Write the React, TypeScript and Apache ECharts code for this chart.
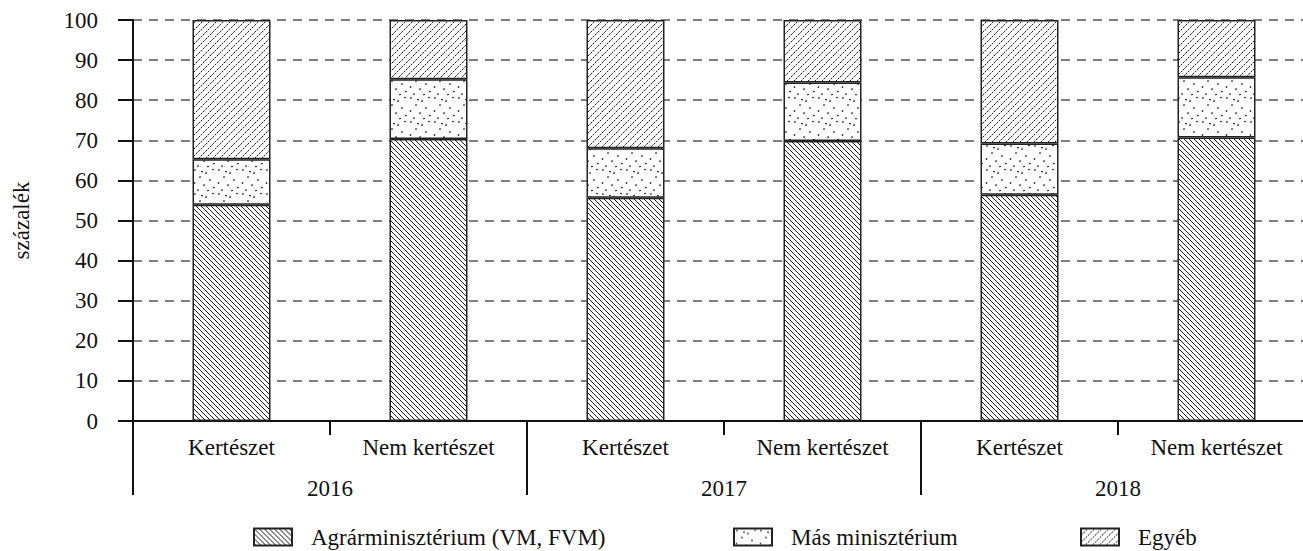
import React, { useEffect, useRef } from "react";
import * as echarts from "echarts";

const categories = ["Kertészet", "Nem kertészet", "Kertészet", "Nem kertészet", "Kertészet", "Nem kertészet"];
const years = ["2016", "2017", "2018"];
const seriesNames = ["Agrárminisztérium (VM, FVM)", "Más minisztérium", "Egyéb"];
const agrar = [53.9, 70.3, 55.7, 69.8, 56.4, 70.7];
const mas = [11.4, 14.9, 12.3, 14.6, 12.8, 15.0];
const egyeb = [34.7, 14.8, 32.0, 15.6, 30.8, 14.3];
const yMin = 0;
const yMax = 100;
const yInterval = 10;
const axisName = "százalék";

const FONT = "'Times New Roman', 'Liberation Serif', serif";

function svgUrl(svg: string) {
  return "data:image/svg+xml;base64," + btoa(svg);
}

function backslashPattern() {
  const s = 5;
  const svg = `<svg xmlns="http://www.w3.org/2000/svg" width="${s}" height="${s}"><rect width="${s}" height="${s}" fill="#fff"/><path d="M-1,-1 L${s + 1},${s + 1} M${s - 1},-1 L${s + 1},1 M-1,${s - 1} L1,${s + 1}" stroke="#000" stroke-width="0.9"/></svg>`;
  return { image: svgUrl(svg), repeat: "repeat", imageWidth: s, imageHeight: s };
}

function slashPattern() {
  const s = 7;
  const svg = `<svg xmlns="http://www.w3.org/2000/svg" width="${s}" height="${s}"><rect width="${s}" height="${s}" fill="#fff"/><path d="M0,${s} L${s},0 M-1,1 L1,-1 M${s - 1},${s + 1} L${s + 1},${s - 1}" stroke="#000" stroke-width="0.9" stroke-dasharray="2.3 1"/></svg>`;
  return { image: svgUrl(svg), repeat: "repeat", imageWidth: s, imageHeight: s };
}

function dotPattern() {
  const s = 24;
  const pts = [
    [3, 2], [14, 5], [21, 1.5], [8, 9], [18, 12], [2.5, 15], [12, 17], [22, 19.5], [6, 22], [16, 22.5], [10, 3.5],
  ];
  const circles = pts.map((p) => `<circle cx="${p[0]}" cy="${p[1]}" r="0.85" fill="#000"/>`).join("");
  const svg = `<svg xmlns="http://www.w3.org/2000/svg" width="${s}" height="${s}"><rect width="${s}" height="${s}" fill="#fff"/>${circles}</svg>`;
  return { image: svgUrl(svg), repeat: "repeat", imageWidth: s, imageHeight: s };
}

export default function App() {
  const ref = useRef<HTMLDivElement>(null);
  useEffect(() => {
    if (!ref.current) return;
    const chart = echarts.init(ref.current, null, { renderer: "svg" });
    const patterns = [backslashPattern(), dotPattern(), slashPattern()];
    const values = [agrar, mas, egyeb];
    const legendLefts = [253, 733, 1080];
    const textStyle = { fontFamily: FONT, fontSize: 23, color: "#111" };
    const option: any = {
      animation: false,
      backgroundColor: "#fff",
      grid: {
        left: 133,
        width: 1182,
        top: 20,
        height: 401,
        containLabel: false,
        outerBoundsMode: "none",
      },
      legend: seriesNames.map((n, i) => ({
        data: [n],
        left: legendLefts[i],
        top: 525,
        padding: 0,
        icon: "rect",
        itemWidth: 38,
        itemHeight: 17,
        selectedMode: false,
        textStyle: { ...textStyle, lineHeight: 24, padding: [0, 0, 0, 14] },
      })),
      xAxis: [
        {
          type: "category",
          data: categories,
          position: "bottom",
          axisLine: { show: true, lineStyle: { color: "#111", width: 2 } },
          axisTick: { show: true, interval: 0, length: 14, alignWithLabel: false, lineStyle: { color: "#111", width: 2 } },
          axisLabel: { interval: 0, margin: 14, ...textStyle, lineHeight: 24 },
          splitLine: { show: false },
        },
        {
          type: "category",
          data: years,
          position: "bottom",
          axisLine: { show: false },
          axisTick: { show: true, interval: 0, length: 74, alignWithLabel: false, lineStyle: { color: "#111", width: 2 } },
          axisLabel: { interval: 0, margin: 55, ...textStyle, lineHeight: 24 },
          splitLine: { show: false },
        },
      ],
      yAxis: {
        type: "value",
        min: yMin,
        max: yMax,
        interval: yInterval,
        name: axisName,
        nameLocation: "middle",
        nameGap: 100,
        nameTextStyle: { ...textStyle },
        axisLine: { show: true, lineStyle: { color: "#111", width: 2 } },
        axisTick: { show: true, length: 15, lineStyle: { color: "#111", width: 2 } },
        axisLabel: { margin: 35, ...textStyle },
        splitLine: { show: true, lineStyle: { color: "#555", width: 1.5, type: [9, 7] } },
      },
      series: seriesNames.map((n, i) => ({
        name: n,
        type: "bar",
        stack: "total",
        xAxisIndex: 0,
        barWidth: 78,
        data: values[i],
        itemStyle: { color: patterns[i], borderColor: "#222", borderWidth: 1.5 },
        emphasis: { disabled: true },
      })),
    };
    chart.setOption(option);
    return () => chart.dispose();
  }, []);
  return (
    <div
      ref={ref}
      style={{ position: "fixed", left: 0, top: 0, width: 1303, height: 551, background: "#fff" }}
    />
  );
}
